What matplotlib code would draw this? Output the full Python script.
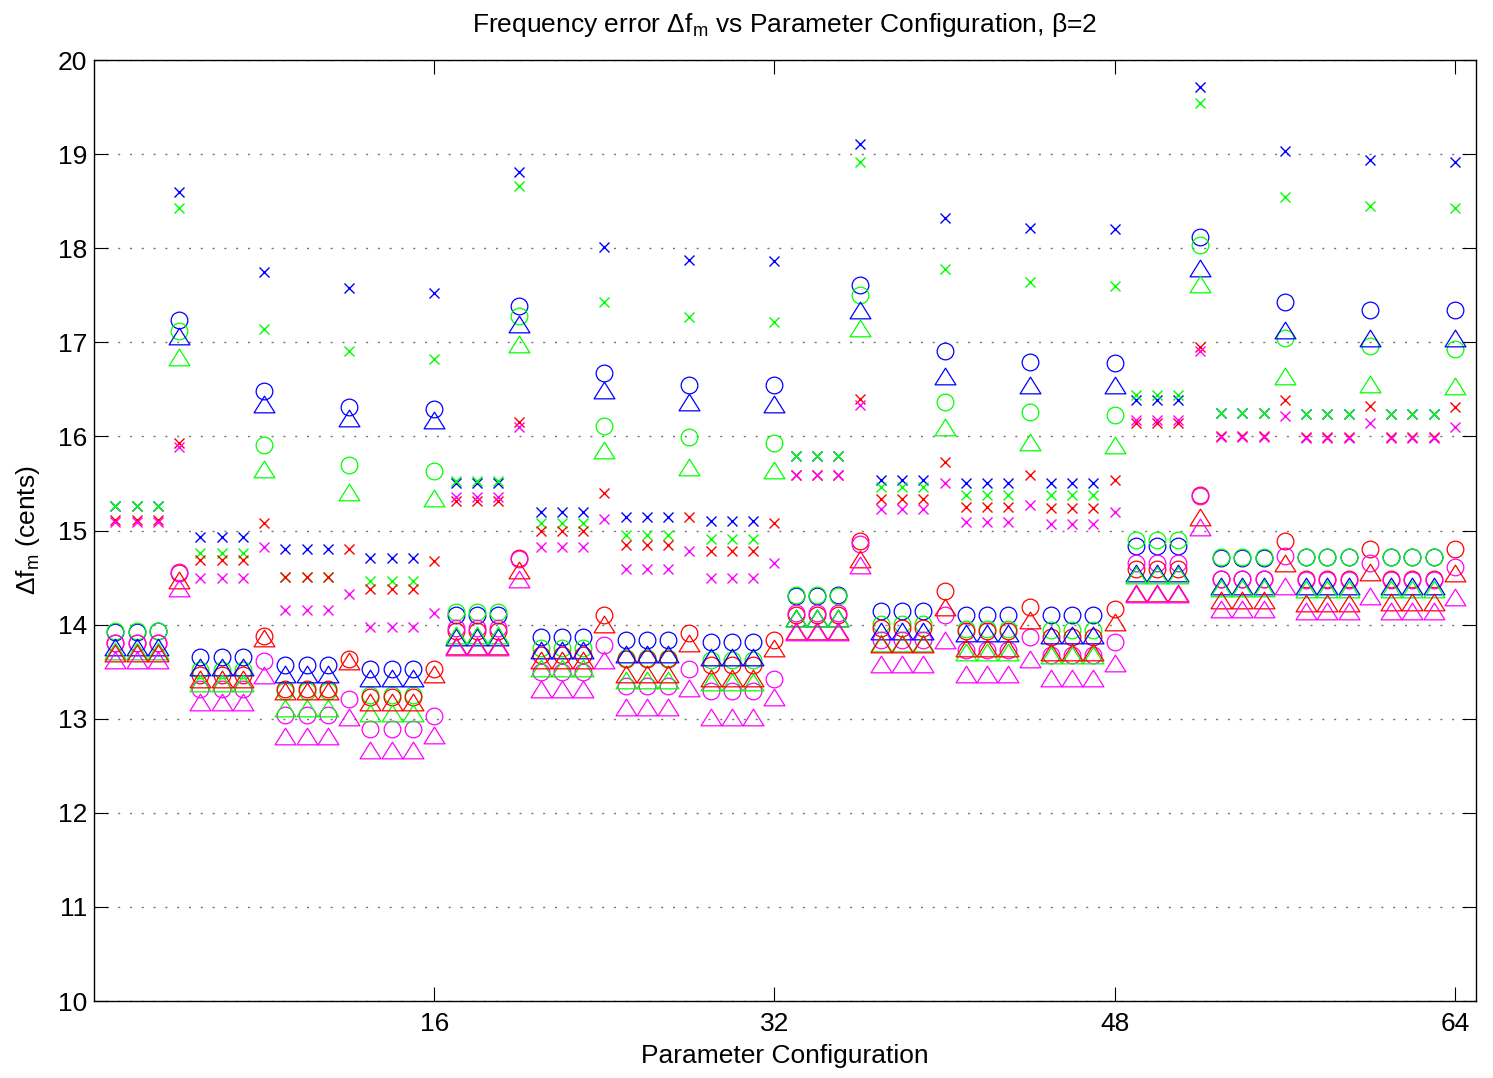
import numpy as np
import matplotlib
matplotlib.use("Agg")
from matplotlib import pyplot as plt
from matplotlib.path import Path

plt.rcParams['font.family'] = ['Liberation Sans', 'DejaVu Sans']
plt.rcParams['mathtext.fontset'] = 'custom'
plt.rcParams['mathtext.rm'] = 'Liberation Sans'
plt.rcParams['mathtext.it'] = 'Liberation Sans'
plt.rcParams['mathtext.default'] = 'regular'

config = np.arange(1, 65)

# frequency error in cents, one value per parameter configuration
# 'x' series
blue_x = [15.26, 15.26, 15.26, 18.60, 14.93, 14.93, 14.93, 17.75,
          14.80, 14.80, 14.80, 17.58, 14.71, 14.71, 14.71, 17.52,
          15.50, 15.50, 15.50, 18.81, 15.20, 15.20, 15.20, 18.01,
          15.14, 15.14, 15.14, 17.88, 15.10, 15.10, 15.10, 17.86,
          15.79, 15.79, 15.79, 19.11, 15.54, 15.54, 15.54, 18.32,
          15.50, 15.50, 15.50, 18.22, 15.50, 15.50, 15.50, 18.20,
          16.39, 16.39, 16.39, 19.71, 16.25, 16.25, 16.25, 19.03,
          16.24, 16.24, 16.24, 18.94, 16.24, 16.24, 16.24, 18.92]
green_x = [15.26, 15.26, 15.26, 18.43, 14.76, 14.76, 14.76, 17.14,
           14.51, 14.51, 14.51, 16.91, 14.46, 14.46, 14.46, 16.82,
           15.53, 15.53, 15.53, 18.66, 15.08, 15.08, 15.08, 17.43,
           14.95, 14.95, 14.95, 17.27, 14.91, 14.91, 14.91, 17.22,
           15.79, 15.79, 15.79, 18.92, 15.46, 15.46, 15.46, 17.78,
           15.38, 15.38, 15.38, 17.64, 15.38, 15.38, 15.38, 17.60,
           16.44, 16.44, 16.44, 19.54, 16.25, 16.25, 16.25, 18.54,
           16.24, 16.24, 16.24, 18.45, 16.24, 16.24, 16.24, 18.43]
red_x = [15.11, 15.11, 15.11, 15.93, 14.69, 14.69, 14.69, 15.08,
         14.51, 14.51, 14.51, 14.80, 14.38, 14.38, 14.38, 14.68,
         15.31, 15.31, 15.31, 16.15, 15.00, 15.00, 15.00, 15.40,
         14.85, 14.85, 14.85, 15.14, 14.78, 14.78, 14.78, 15.08,
         15.59, 15.59, 15.59, 16.40, 15.33, 15.33, 15.33, 15.73,
         15.25, 15.25, 15.25, 15.59, 15.24, 15.24, 15.24, 15.54,
         16.14, 16.14, 16.14, 16.95, 16.00, 16.00, 16.00, 16.39,
         15.99, 15.99, 15.99, 16.32, 15.99, 15.99, 15.99, 16.31]
magenta_x = [15.09, 15.09, 15.09, 15.89, 14.50, 14.50, 14.50, 14.82,
             14.16, 14.16, 14.16, 14.33, 13.97, 13.97, 13.97, 14.12,
             15.36, 15.36, 15.36, 16.10, 14.82, 14.82, 14.82, 15.12,
             14.59, 14.59, 14.59, 14.78, 14.50, 14.50, 14.50, 14.65,
             15.59, 15.59, 15.59, 16.33, 15.23, 15.23, 15.23, 15.50,
             15.09, 15.09, 15.09, 15.27, 15.07, 15.07, 15.07, 15.20,
             16.18, 16.18, 16.18, 16.91, 15.99, 15.99, 15.99, 16.22,
             15.98, 15.98, 15.98, 16.14, 15.98, 15.98, 15.98, 16.10]

# 'o' series
blue_o = [13.92, 13.92, 13.93, 17.24, 13.66, 13.66, 13.66, 16.48,
          13.57, 13.57, 13.57, 16.31, 13.53, 13.53, 13.53, 16.29,
          14.10, 14.10, 14.10, 17.39, 13.87, 13.87, 13.87, 16.67,
          13.84, 13.84, 13.84, 16.55, 13.82, 13.82, 13.82, 16.55,
          14.30, 14.30, 14.31, 17.61, 14.14, 14.14, 14.14, 16.91,
          14.10, 14.10, 14.10, 16.79, 14.10, 14.10, 14.10, 16.78,
          14.84, 14.84, 14.84, 18.12, 14.71, 14.71, 14.71, 17.43,
          14.72, 14.72, 14.72, 17.34, 14.72, 14.72, 14.72, 17.34]
green_o = [13.93, 13.93, 13.93, 17.12, 13.52, 13.52, 13.52, 15.91,
           13.30, 13.30, 13.30, 15.70, 13.25, 13.25, 13.25, 15.63,
           14.13, 14.13, 14.13, 17.28, 13.75, 13.75, 13.75, 16.11,
           13.65, 13.65, 13.65, 15.99, 13.62, 13.62, 13.62, 15.93,
           14.31, 14.31, 14.30, 17.50, 14.01, 14.01, 14.01, 16.37,
           13.95, 13.95, 13.95, 16.26, 13.94, 13.94, 13.94, 16.23,
           14.90, 14.90, 14.90, 18.03, 14.72, 14.72, 14.72, 17.05,
           14.72, 14.72, 14.72, 16.96, 14.72, 14.72, 14.72, 16.93]
red_o = [13.80, 13.80, 13.80, 14.55, 13.46, 13.46, 13.46, 13.88,
         13.32, 13.32, 13.32, 13.63, 13.23, 13.23, 13.23, 13.53,
         13.93, 13.93, 13.93, 14.71, 13.68, 13.68, 13.68, 14.10,
         13.63, 13.63, 13.63, 13.91, 13.57, 13.57, 13.57, 13.84,
         14.10, 14.10, 14.10, 14.89, 13.96, 13.96, 13.96, 14.36,
         13.93, 13.93, 13.93, 14.19, 13.87, 13.87, 13.87, 14.17,
         14.59, 14.59, 14.59, 15.38, 14.48, 14.48, 14.49, 14.89,
         14.48, 14.48, 14.48, 14.80, 14.48, 14.48, 14.48, 14.80]
magenta_o = [13.81, 13.81, 13.81, 14.56, 13.32, 13.32, 13.32, 13.61,
             13.04, 13.04, 13.04, 13.21, 12.89, 12.89, 12.89, 13.03,
             13.96, 13.96, 13.96, 14.70, 13.50, 13.50, 13.50, 13.78,
             13.35, 13.35, 13.35, 13.53, 13.29, 13.29, 13.29, 13.42,
             14.12, 14.12, 14.12, 14.86, 13.84, 13.84, 13.84, 14.10,
             13.73, 13.73, 13.73, 13.87, 13.68, 13.68, 13.68, 13.82,
             14.66, 14.66, 14.66, 15.37, 14.49, 14.49, 14.49, 14.73,
             14.47, 14.47, 14.47, 14.65, 14.47, 14.47, 14.47, 14.61]

# triangle series
blue_t = [13.76, 13.76, 13.76, 17.07, 13.55, 13.55, 13.55, 16.35,
          13.48, 13.48, 13.48, 16.20, 13.43, 13.43, 13.43, 16.18,
          13.87, 13.87, 13.87, 17.19, 13.73, 13.73, 13.73, 16.49,
          13.69, 13.69, 13.69, 16.37, 13.66, 13.66, 13.66, 16.35,
          14.07, 14.07, 14.07, 17.34, 13.93, 13.93, 13.93, 16.64,
          13.91, 13.91, 13.91, 16.55, 13.89, 13.89, 13.89, 16.55,
          14.55, 14.55, 14.55, 17.79, 14.41, 14.41, 14.41, 17.13,
          14.41, 14.41, 14.41, 17.05, 14.41, 14.41, 14.41, 17.05]
green_t = [13.72, 13.72, 13.72, 16.84, 13.38, 13.38, 13.38, 15.65,
           13.11, 13.11, 13.11, 15.41, 13.06, 13.06, 13.06, 15.35,
           13.89, 13.89, 13.89, 16.98, 13.54, 13.54, 13.54, 15.86,
           13.41, 13.41, 13.41, 15.68, 13.39, 13.39, 13.39, 15.64,
           14.07, 14.07, 14.07, 17.15, 13.80, 13.80, 13.80, 16.10,
           13.71, 13.71, 13.71, 15.94, 13.68, 13.68, 13.68, 15.91,
           14.53, 14.53, 14.53, 17.62, 14.39, 14.39, 14.39, 16.64,
           14.38, 14.38, 14.38, 16.56, 14.38, 14.38, 14.38, 16.54]
red_t = [13.70, 13.70, 13.70, 14.47, 13.42, 13.42, 13.42, 13.86,
         13.29, 13.29, 13.29, 13.61, 13.18, 13.18, 13.18, 13.48,
         13.77, 13.77, 13.77, 14.58, 13.62, 13.62, 13.62, 14.01,
         13.48, 13.48, 13.48, 13.80, 13.43, 13.43, 13.43, 13.75,
         13.93, 13.93, 13.93, 14.70, 13.79, 13.79, 13.79, 14.19,
         13.75, 13.75, 13.75, 14.05, 13.71, 13.71, 13.71, 14.03,
         14.34, 14.34, 14.34, 15.14, 14.26, 14.26, 14.26, 14.65,
         14.23, 14.23, 14.23, 14.56, 14.24, 14.24, 14.24, 14.55]
magenta_t = [13.62, 13.62, 13.62, 14.39, 13.18, 13.18, 13.18, 13.46,
             12.82, 12.82, 12.82, 13.02, 12.67, 12.67, 12.67, 12.83,
             13.76, 13.76, 13.76, 14.49, 13.32, 13.32, 13.32, 13.62,
             13.13, 13.13, 13.13, 13.33, 13.02, 13.02, 13.02, 13.23,
             13.92, 13.92, 13.92, 14.63, 13.58, 13.58, 13.58, 13.84,
             13.48, 13.48, 13.48, 13.64, 13.43, 13.43, 13.43, 13.59,
             14.33, 14.33, 14.33, 15.04, 14.17, 14.17, 14.17, 14.41,
             14.14, 14.14, 14.14, 14.30, 14.14, 14.14, 14.14, 14.29]

colors = ['#0000ff', '#00ff00', '#ff0000', '#ff00ff']

fig = plt.figure(figsize=(14.93, 10.78), dpi=100)
ax = fig.add_axes([0.063, 0.0714, 0.9257, 0.8729])

# wide triangle like the matlab '^' marker
tri = Path([(0, 0.8), (-1, -0.8), (1, -0.8), (0, 0.8)],
           [Path.MOVETO, Path.LINETO, Path.LINETO, Path.CLOSEPOLY])

for c, vals in zip(colors, [blue_x, green_x, red_x, magenta_x]):
    ax.plot(config, vals, ls='none', marker='x', ms=6.5, mew=1.0, color=c)
for c, vals in zip(colors, [blue_o, green_o, red_o, magenta_o]):
    ax.plot(config, vals, ls='none', marker='o', ms=12, mew=0.9, mfc='none', mec=c)
for c, vals in zip(colors, [blue_t, green_t, red_t, magenta_t]):
    ax.plot(config, vals, ls='none', marker=tri, ms=15, mew=0.9, mfc='none', mec=c)

ax.set_xlim(0, 65)
ax.set_ylim(10, 20)
ax.set_xticks([16, 32, 48, 64])
ax.set_yticks(np.arange(10, 21))
ax.yaxis.grid(True, linestyle=(0, (1.5, 7)), color='#777777', linewidth=1)
ax.tick_params(direction='in', length=10, width=0.8, top=True, right=True,
               labelsize=19)
ax.tick_params(axis='x', pad=8)
ax.tick_params(axis='y', pad=5)
for s in ax.spines.values():
    s.set_linewidth(1)

ax.set_xlabel('Parameter Configuration', fontsize=19, labelpad=6)
ax.set_ylabel(r'$\Delta f_m$ (cents)', fontsize=19, labelpad=11)
ax.set_title(r'Frequency error $\Delta f_m$ vs Parameter Configuration, β=2',
             fontsize=19, pad=20)

fig.savefig('out.png', dpi=100)
